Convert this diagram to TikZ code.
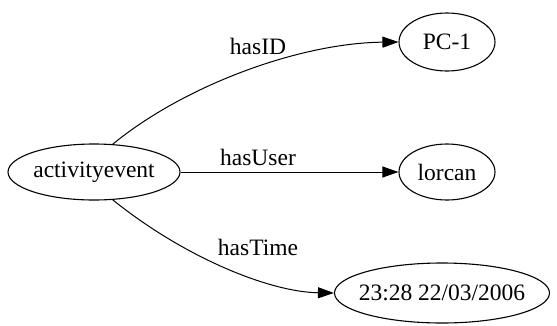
\documentclass[tikz,border=0pt]{standalone}
\usepackage{fontspec}
\setmainfont{Liberation Serif}
\usetikzlibrary{shapes.geometric,arrows.meta}
\begin{document}
\begin{tikzpicture}[x=1pt,y=-1pt,
  entity/.style={ellipse,draw,line width=1.1pt,inner sep=0pt,font=\fontsize{23.5}{27}\selectfont},
  rel/.style={line width=1pt,-{Triangle[length=16pt,width=11pt]}},
  lbl/.style={font=\fontsize{23.5}{27}\selectfont,inner sep=0pt}]
\useasboundingbox (0,0) rectangle (557,325);
\node[entity,minimum width=172pt,minimum height=56pt] (ev) at (94,172) {activityevent};
\node[entity,minimum width=96pt,minimum height=58pt] (pc) at (447,42) {PC-1};
\node[entity,minimum width=96pt,minimum height=56pt] (lo) at (447,172) {lorcan};
\node[entity,inner xsep=-12pt,minimum width=215pt,minimum height=60pt] (dt) at (442,293) {23:28 22/03/2006};
\draw[rel] (ev.56) .. controls (185,85) and (300,43) .. (pc.west);
\draw[rel] (ev.east) -- (lo.west);
\draw[rel] (ev.-56) .. controls (185,258) and (270,292) .. (dt.west);
\node[lbl] (l1) at (258,46) {hasID};
\node[lbl] (l2) at (258,157) {hasUser};
\node[lbl] (l3) at (258,247) {hasTime};
\end{tikzpicture}
\end{document}
